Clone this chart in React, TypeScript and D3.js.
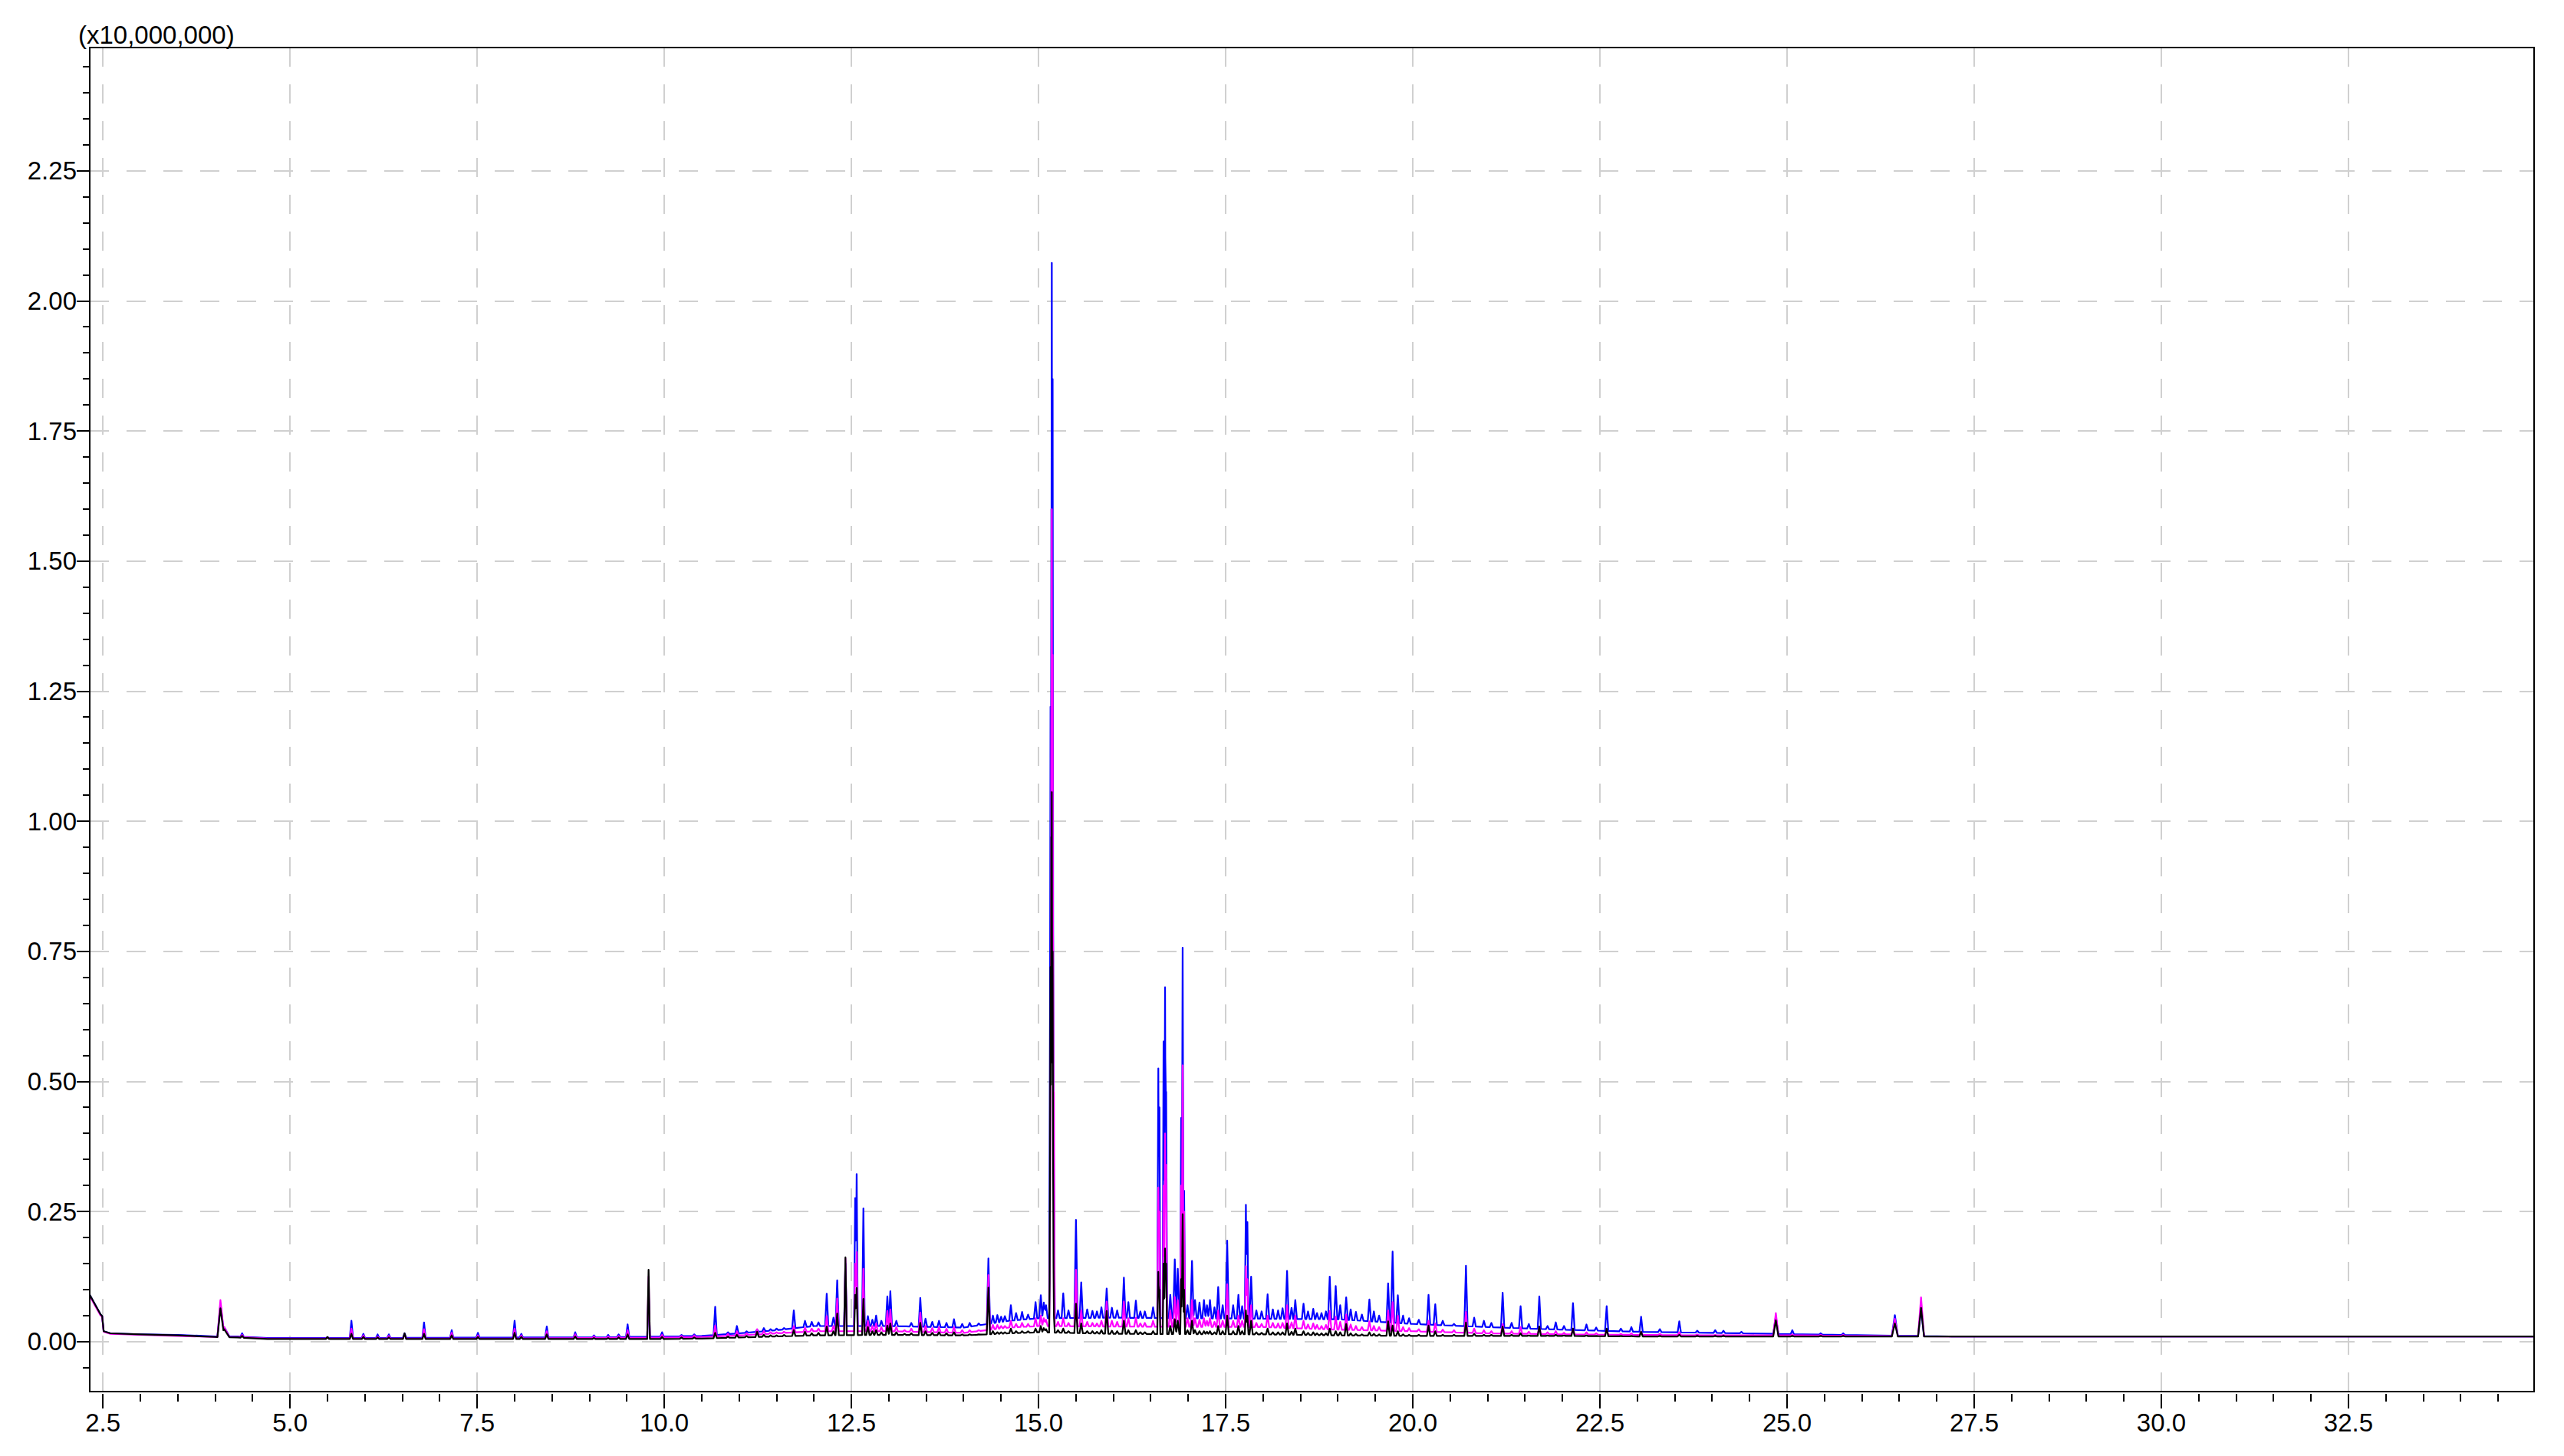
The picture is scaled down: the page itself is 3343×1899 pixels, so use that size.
import React from 'react';
import * as d3 from 'd3';

const W = 3343;
const H = 1899;
const PLOT = { left: 117, right: 3304, top: 62, bottom: 1815 };

const xDomain: [number, number] = [2.324, 34.98];
const yDomain: [number, number] = [-0.096, 2.487];

const xMajorTicks = [2.5, 5.0, 7.5, 10.0, 12.5, 15.0, 17.5, 20.0, 22.5, 25.0, 27.5, 30.0, 32.5];
const xTickLabels = ['2.5', '5.0', '7.5', '10.0', '12.5', '15.0', '17.5', '20.0', '22.5', '25.0', '27.5', '30.0', '32.5'];
const yMajorTicks = [0, 0.25, 0.5, 0.75, 1.0, 1.25, 1.5, 1.75, 2.0, 2.25];
const yTickLabels = ['0.00', '0.25', '0.50', '0.75', '1.00', '1.25', '1.50', '1.75', '2.00', '2.25'];
const yUnitLabel = '(x10,000,000)';

const seriesNames = ['blue', 'magenta', 'black'];
const seriesColors = ['#0000ff', '#ff00ff', '#000000'];

// baseline (retention time, min) and baseline intensity per trace
const baseRT = [2.324, 2.4, 2.47, 2.49, 2.51, 2.6, 3.0, 3.5, 4.0, 4.3, 4.7, 6.0, 8.0, 9.0, 10.0, 10.5, 11.0, 11.5, 12.0, 13.0, 14.0, 14.6, 15.0, 16.0, 18.0, 19.0, 20.0, 21.0, 22.0, 23.0, 24.0, 25.2, 27.2, 34.98];
const baseBlue = [0.09, 0.07, 0.052, 0.049, 0.02, 0.016, 0.014, 0.013, 0.01, 0.01, 0.007, 0.007, 0.008, 0.008, 0.01, 0.011, 0.016, 0.022, 0.03, 0.03, 0.027, 0.04, 0.045, 0.046, 0.044, 0.043, 0.034, 0.028, 0.023, 0.019, 0.017, 0.014, 0.01, 0.01];
const baseMagenta = [0.088, 0.068, 0.05, 0.048, 0.019, 0.015, 0.013, 0.011, 0.009, 0.009, 0.006, 0.006, 0.006, 0.007, 0.008, 0.009, 0.012, 0.016, 0.02, 0.02, 0.017, 0.027, 0.03, 0.029, 0.028, 0.023, 0.02, 0.016, 0.014, 0.013, 0.012, 0.012, 0.01, 0.01];
const baseBlack = [0.09, 0.07, 0.052, 0.049, 0.02, 0.016, 0.014, 0.012, 0.009, 0.008, 0.005, 0.005, 0.005, 0.005, 0.005, 0.006, 0.008, 0.01, 0.012, 0.013, 0.012, 0.016, 0.018, 0.015, 0.014, 0.012, 0.011, 0.011, 0.011, 0.01, 0.01, 0.01, 0.01, 0.01];

// peaks: [retention time, blue apex, magenta apex, black apex, half width]
const peaks: number[][] = [
  [4.07, 0.073, 0.08, 0.064, 0.04],
  [4.12, 0.028, 0.028, 0.024, 0.07],
  [4.36, 0.016, 0.013, 0.011],
  [5.5, 0.008, 0.008, 0.009],
  [5.82, 0.04, 0.025, 0.015],
  [5.98, 0.015, 0.012, 0.009],
  [6.17, 0.014, 0.01, 0.008],
  [6.32, 0.014, 0.011, 0.008],
  [6.53, 0.016, 0.014, 0.016],
  [6.79, 0.037, 0.024, 0.015],
  [7.16, 0.022, 0.017, 0.012],
  [7.51, 0.017, 0.012, 0.009],
  [8.0, 0.04, 0.025, 0.017],
  [8.09, 0.015, 0.012, 0.009],
  [8.43, 0.029, 0.02, 0.014],
  [8.81, 0.018, 0.014, 0.01],
  [9.06, 0.012, 0.01, 0.007],
  [9.25, 0.013, 0.01, 0.007],
  [9.39, 0.014, 0.011, 0.008],
  [9.51, 0.033, 0.022, 0.014],
  [9.79, 0.1, 0.125, 0.138, 0.018],
  [9.97, 0.018, 0.013, 0.009],
  [10.23, 0.013, 0.011, 0.008],
  [10.4, 0.014, 0.012, 0.008],
  [10.68, 0.067, 0.031, 0.017],
  [10.85, 0.018, 0.015, 0.01],
  [10.97, 0.03, 0.02, 0.013],
  [11.1, 0.02, 0.016, 0.011],
  [11.24, 0.023, 0.024, 0.019],
  [11.33, 0.026, 0.02, 0.013],
  [11.42, 0.024, 0.018, 0.012],
  [11.5, 0.025, 0.018, 0.012],
  [11.6, 0.026, 0.019, 0.013],
  [11.73, 0.06, 0.03, 0.022],
  [11.88, 0.04, 0.027, 0.019],
  [11.97, 0.038, 0.025, 0.016],
  [12.06, 0.037, 0.025, 0.017],
  [12.17, 0.092, 0.049, 0.029],
  [12.26, 0.046, 0.03, 0.02],
  [12.31, 0.118, 0.083, 0.054],
  [12.42, 0.15, 0.16, 0.162, 0.018],
  [12.55, 0.276, 0.15, 0.09, 0.015],
  [12.57, 0.322, 0.172, 0.103, 0.015],
  [12.66, 0.256, 0.14, 0.082, 0.018],
  [12.72, 0.049, 0.04, 0.028],
  [12.78, 0.042, 0.03, 0.02],
  [12.83, 0.05, 0.035, 0.022],
  [12.9, 0.04, 0.028, 0.018],
  [12.98, 0.087, 0.059, 0.031],
  [13.02, 0.097, 0.062, 0.035],
  [13.1, 0.04, 0.028, 0.018],
  [13.21, 0.028, 0.022, 0.015],
  [13.3, 0.036, 0.025, 0.016],
  [13.42, 0.084, 0.056, 0.036],
  [13.49, 0.044, 0.03, 0.02],
  [13.58, 0.038, 0.026, 0.017],
  [13.67, 0.04, 0.028, 0.018],
  [13.77, 0.036, 0.025, 0.016],
  [13.87, 0.043, 0.028, 0.018],
  [13.98, 0.034, 0.022, 0.014],
  [14.08, 0.036, 0.022, 0.014],
  [14.2, 0.035, 0.022, 0.014],
  [14.33, 0.16, 0.128, 0.104],
  [14.39, 0.05, 0.032, 0.02],
  [14.45, 0.051, 0.032, 0.018],
  [14.5, 0.048, 0.03, 0.018],
  [14.55, 0.049, 0.03, 0.018],
  [14.63, 0.07, 0.04, 0.025],
  [14.7, 0.055, 0.034, 0.02],
  [14.78, 0.057, 0.036, 0.02],
  [14.86, 0.052, 0.034, 0.02],
  [14.96, 0.076, 0.045, 0.025],
  [15.03, 0.089, 0.05, 0.03],
  [15.07, 0.075, 0.045, 0.026],
  [15.1, 0.07, 0.042, 0.024],
  [15.154, 0.69, 0.2, 0.21, 0.012],
  [15.16, 1.22, 0.465, 0.72, 0.012],
  [15.171, 1.6, 1.22, 0.97, 0.012],
  [15.177, 2.073, 1.6, 1.056, 0.012],
  [15.188, 1.85, 1.32, 0.75, 0.012],
  [15.195, 0.77, 0.75, 0.236, 0.012],
  [15.205, 0.3, 0.48, 0.05, 0.012],
  [15.26, 0.06, 0.038, 0.022],
  [15.33, 0.093, 0.045, 0.025],
  [15.4, 0.06, 0.036, 0.02],
  [15.5, 0.234, 0.138, 0.073],
  [15.57, 0.114, 0.06, 0.035],
  [15.65, 0.062, 0.038, 0.02],
  [15.72, 0.059, 0.036, 0.02],
  [15.78, 0.058, 0.035, 0.019],
  [15.84, 0.066, 0.04, 0.022],
  [15.91, 0.102, 0.077, 0.059],
  [15.98, 0.065, 0.04, 0.021],
  [16.05, 0.06, 0.038, 0.02],
  [16.14, 0.123, 0.077, 0.04],
  [16.2, 0.076, 0.045, 0.022],
  [16.3, 0.079, 0.046, 0.022],
  [16.36, 0.058, 0.035, 0.018],
  [16.42, 0.058, 0.036, 0.018],
  [16.53, 0.066, 0.04, 0.02],
  [16.6, 0.525, 0.296, 0.134, 0.014],
  [16.615, 0.45, 0.25, 0.1, 0.012],
  [16.67, 0.577, 0.3, 0.15, 0.012],
  [16.69, 0.681, 0.4, 0.179, 0.014],
  [16.705, 0.48, 0.34, 0.15, 0.012],
  [16.76, 0.09, 0.06, 0.03],
  [16.82, 0.158, 0.086, 0.043],
  [16.86, 0.14, 0.08, 0.04],
  [16.905, 0.43, 0.3, 0.12, 0.012],
  [16.925, 0.757, 0.531, 0.245, 0.014],
  [16.945, 0.29, 0.25, 0.1, 0.012],
  [16.99, 0.07, 0.045, 0.022],
  [17.05, 0.155, 0.08, 0.04],
  [17.09, 0.08, 0.045, 0.022],
  [17.15, 0.075, 0.042, 0.02],
  [17.21, 0.08, 0.045, 0.02],
  [17.25, 0.07, 0.04, 0.019],
  [17.29, 0.08, 0.045, 0.02],
  [17.35, 0.066, 0.038, 0.018],
  [17.4, 0.105, 0.06, 0.03],
  [17.46, 0.07, 0.04, 0.02],
  [17.52, 0.194, 0.11, 0.05],
  [17.6, 0.07, 0.04, 0.02],
  [17.67, 0.09, 0.05, 0.03],
  [17.72, 0.068, 0.04, 0.02],
  [17.77, 0.263, 0.145, 0.06, 0.015],
  [17.79, 0.23, 0.12, 0.05, 0.015],
  [17.84, 0.125, 0.07, 0.04],
  [17.91, 0.06, 0.036, 0.018],
  [17.98, 0.058, 0.034, 0.017],
  [18.06, 0.091, 0.05, 0.025],
  [18.13, 0.062, 0.036, 0.018],
  [18.2, 0.06, 0.035, 0.018],
  [18.26, 0.064, 0.036, 0.018],
  [18.32, 0.136, 0.07, 0.035],
  [18.38, 0.065, 0.037, 0.019],
  [18.43, 0.08, 0.05, 0.025],
  [18.54, 0.073, 0.04, 0.02],
  [18.6, 0.058, 0.033, 0.017],
  [18.67, 0.063, 0.035, 0.018],
  [18.72, 0.055, 0.032, 0.016],
  [18.78, 0.055, 0.03, 0.016],
  [18.84, 0.058, 0.032, 0.016],
  [18.89, 0.125, 0.059, 0.025],
  [18.97, 0.107, 0.048, 0.02],
  [19.03, 0.07, 0.038, 0.018],
  [19.11, 0.085, 0.052, 0.034],
  [19.17, 0.062, 0.033, 0.016],
  [19.24, 0.057, 0.03, 0.015],
  [19.32, 0.052, 0.028, 0.014],
  [19.42, 0.081, 0.039, 0.018],
  [19.48, 0.058, 0.03, 0.015],
  [19.55, 0.05, 0.028, 0.014],
  [19.67, 0.112, 0.06, 0.039],
  [19.73, 0.173, 0.076, 0.031],
  [19.8, 0.089, 0.05, 0.02],
  [19.87, 0.05, 0.028, 0.014],
  [19.95, 0.045, 0.026, 0.013],
  [20.08, 0.042, 0.024, 0.013],
  [20.21, 0.09, 0.04, 0.031],
  [20.3, 0.072, 0.035, 0.02],
  [20.4, 0.04, 0.023, 0.013],
  [20.55, 0.034, 0.022, 0.013],
  [20.71, 0.146, 0.057, 0.037],
  [20.82, 0.046, 0.025, 0.015],
  [20.95, 0.04, 0.022, 0.013],
  [21.05, 0.036, 0.02, 0.013],
  [21.2, 0.094, 0.034, 0.029],
  [21.32, 0.036, 0.02, 0.013],
  [21.44, 0.068, 0.028, 0.016],
  [21.55, 0.034, 0.019, 0.012],
  [21.69, 0.087, 0.028, 0.029],
  [21.8, 0.03, 0.018, 0.012],
  [21.91, 0.037, 0.02, 0.013],
  [22.02, 0.03, 0.017, 0.012],
  [22.14, 0.074, 0.025, 0.025],
  [22.32, 0.033, 0.018, 0.012],
  [22.45, 0.027, 0.016, 0.011],
  [22.59, 0.068, 0.023, 0.025],
  [22.78, 0.025, 0.015, 0.011],
  [22.92, 0.028, 0.016, 0.011],
  [23.05, 0.048, 0.019, 0.019],
  [23.3, 0.024, 0.015, 0.011],
  [23.56, 0.039, 0.018, 0.013],
  [23.8, 0.021, 0.014, 0.011],
  [24.04, 0.022, 0.013, 0.011],
  [24.15, 0.021, 0.013, 0.011],
  [24.39, 0.019, 0.012, 0.01],
  [24.85, 0.048, 0.055, 0.041, 0.035],
  [25.07, 0.022, 0.014, 0.011],
  [25.45, 0.016, 0.013, 0.011],
  [25.75, 0.016, 0.013, 0.011],
  [26.44, 0.051, 0.044, 0.035, 0.04],
  [26.79, 0.062, 0.085, 0.065, 0.04],
];

const DEFAULT_HW = 0.022;

function buildTrace(baseVals: number[], col: number): [number, number][] {
  const baseline = d3.scaleLinear().domain(baseRT).range(baseVals).clamp(true);
  const times = new Set<number>(baseRT);
  peaks.forEach((p) => {
    const hw = p[4] ?? DEFAULT_HW;
    times.add(p[0] - hw);
    times.add(p[0]);
    times.add(p[0] + hw);
  });
  const sorted = Array.from(times)
    .filter((t) => t >= xDomain[0] && t <= xDomain[1])
    .sort((a, b) => a - b);
  return sorted.map((t) => {
    let extra = 0;
    peaks.forEach((p) => {
      const hw = p[4] ?? DEFAULT_HW;
      const d = Math.abs(t - p[0]);
      if (d < hw) {
        const h = Math.max(0, p[col] - baseline(p[0]));
        extra = Math.max(extra, h * (1 - d / hw));
      }
    });
    return [t, baseline(t) + extra];
  });
}

export default function App() {
  const x = d3.scaleLinear().domain(xDomain).range([PLOT.left, PLOT.right]);
  const y = d3.scaleLinear().domain(yDomain).range([PLOT.bottom, PLOT.top]);

  const traces = [
    buildTrace(baseBlue, 1),
    buildTrace(baseMagenta, 2),
    buildTrace(baseBlack, 3),
  ];
  const line = d3
    .line<[number, number]>()
    .x((d) => x(d[0]))
    .y((d) => y(d[1]));

  const xMinor = d3.range(2.5, 35.0, 0.5).filter((v) => v <= xDomain[1]);
  const yMinor = d3.range(-0.05, 2.487, 0.05).filter((v) => v >= yDomain[0] && v <= yDomain[1]);

  const font = "'Liberation Sans', Arial, Helvetica, sans-serif";
  const gridColor = '#d0d0d0';

  return (
    <svg
      width={W}
      height={H}
      style={{ position: 'absolute', left: 0, top: 0, background: '#fff' }}
      xmlns="http://www.w3.org/2000/svg"
    >
      <rect x={0} y={0} width={W} height={H} fill="#ffffff" />
      <defs>
        <clipPath id="plotClip">
          <rect x={PLOT.left} y={PLOT.top} width={PLOT.right - PLOT.left} height={PLOT.bottom - PLOT.top} />
        </clipPath>
      </defs>
      {/* grid */}
      <g shapeRendering="crispEdges">
        {yMajorTicks.map((v, i) => (
          <line
            key={'gy' + i}
            x1={PLOT.left}
            x2={PLOT.right}
            y1={Math.round(y(v))}
            y2={Math.round(y(v))}
            stroke={gridColor}
            strokeWidth={2}
            strokeDasharray="25 23"
          />
        ))}
        {xMajorTicks.map((v, i) => (
          <line
            key={'gx' + i}
            x1={Math.round(x(v))}
            x2={Math.round(x(v))}
            y1={PLOT.top}
            y2={PLOT.bottom}
            stroke={gridColor}
            strokeWidth={2}
            strokeDasharray="25 23"
          />
        ))}
      </g>
      {/* traces */}
      <g clipPath="url(#plotClip)">
        {traces.map((tr, i) => (
          <path
            key={seriesNames[i]}
            d={line(tr) || ''}
            fill="none"
            stroke={seriesColors[i]}
            strokeWidth={2.2}
            strokeLinejoin="round"
          />
        ))}
      </g>
      {/* frame */}
      <rect
        x={PLOT.left}
        y={PLOT.top}
        width={PLOT.right - PLOT.left}
        height={PLOT.bottom - PLOT.top}
        fill="none"
        stroke="#000"
        strokeWidth={2}
        shapeRendering="crispEdges"
      />
      {/* y ticks */}
      <g shapeRendering="crispEdges">
        {yMinor.map((v, i) => (
          <line key={'ym' + i} x1={PLOT.left - 9} x2={PLOT.left} y1={y(v)} y2={y(v)} stroke="#000" strokeWidth={2} />
        ))}
        {yMajorTicks.map((v, i) => (
          <g key={'yt' + i}>
            <line x1={PLOT.left - 17} x2={PLOT.left} y1={y(v)} y2={y(v)} stroke="#000" strokeWidth={2} />
            <text
              x={PLOT.left - 17}
              y={y(v)}
              textAnchor="end"
              dominantBaseline="central"
              fontFamily={font}
              fontSize={33}
              fill="#000"
            >
              {yTickLabels[i]}
            </text>
          </g>
        ))}
      </g>
      {/* x ticks */}
      <g shapeRendering="crispEdges">
        {xMinor.map((v, i) => (
          <line key={'xm' + i} x1={x(v)} x2={x(v)} y1={PLOT.bottom + 3} y2={PLOT.bottom + 13} stroke="#000" strokeWidth={2} />
        ))}
        {xMajorTicks.map((v, i) => (
          <g key={'xt' + i}>
            <line x1={x(v)} x2={x(v)} y1={PLOT.bottom + 3} y2={PLOT.bottom + 22} stroke="#000" strokeWidth={2} />
            <text
              x={x(v)}
              y={1867}
              textAnchor="middle"
              fontFamily={font}
              fontSize={33}
              fill="#000"
            >
              {xTickLabels[i]}
            </text>
          </g>
        ))}
      </g>
      <text x={102} y={57} fontFamily={font} fontSize={33} fill="#000">
        {yUnitLabel}
      </text>
    </svg>
  );
}
